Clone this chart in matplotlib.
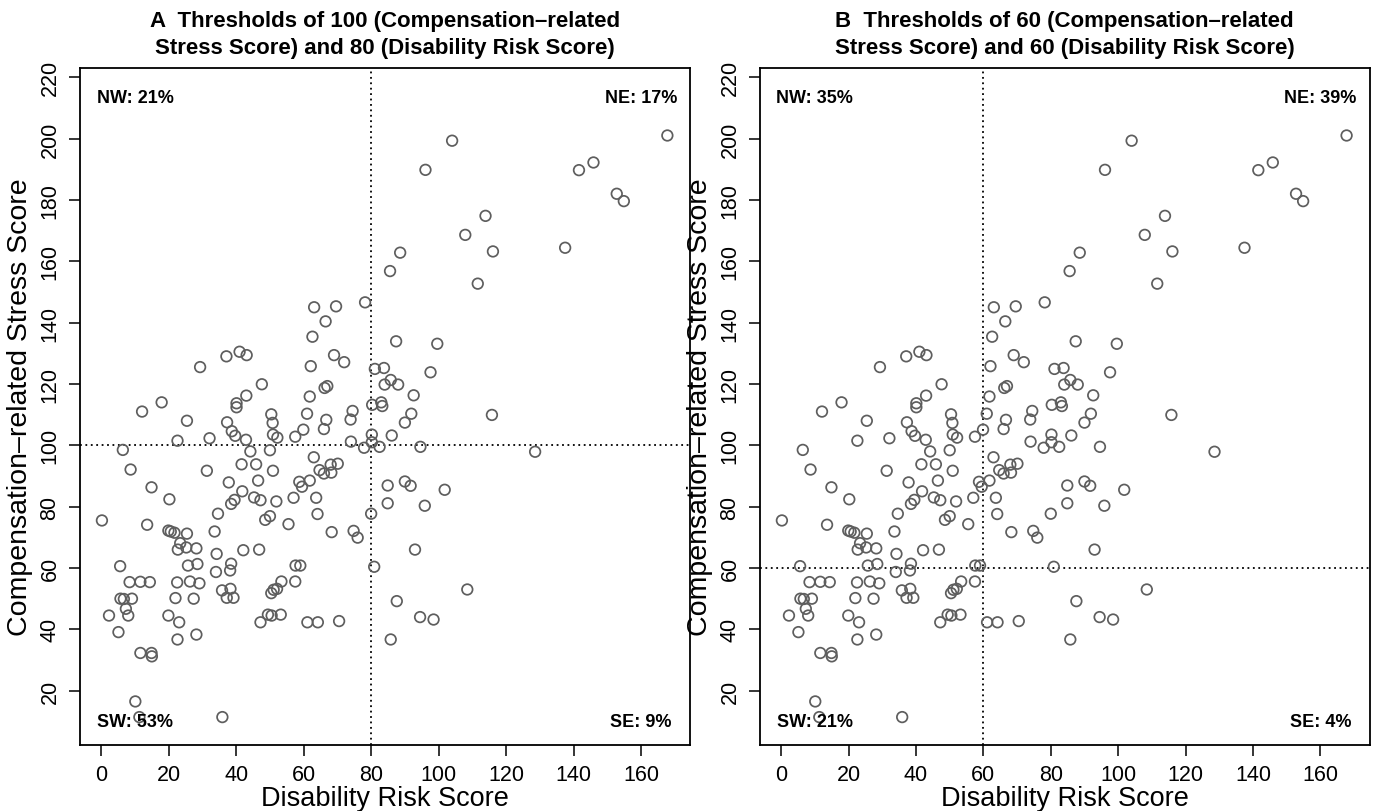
import matplotlib
matplotlib.use("Agg")
import matplotlib.pyplot as plt
import numpy as np

plt.rcParams['font.family'] = ['Liberation Sans', 'DejaVu Sans']

# ---- data (Disability Risk Score, Compensation-related Stress Score) ----
disability = [
    # NE region (panel A)
    167.8, 104.0, 96.1, 145.9, 141.6, 152.8, 154.9, 113.9, 107.9, 88.6, 116.1, 137.5,
    85.6, 111.6, 87.4, 99.6, 81.1, 83.8, 97.6, 85.8, 84.0, 88.0, 92.6, 80.3, 83.0, 83.3,
    91.9, 90.0, 115.8, 86.1, 80.2, 80.2,
    # NW region
    78.2, 63.1, 69.6, 66.5, 62.6, 69.0, 72.0, 62.1, 37.1, 41.0, 43.1, 29.3, 47.6, 66.2,
    67.0, 43.0, 61.8, 40.1, 40.1, 17.9, 12.1, 74.5, 50.4, 61.0, 73.9, 66.7, 25.4, 37.3,
    50.8, 38.7, 66.0, 59.9, 39.7, 50.9, 52.2, 57.5, 32.1, 22.6, 42.9, 74.0,
    # SE region
    82.5, 94.6, 128.6, 84.9, 90.0, 91.7, 101.8, 84.9, 95.9, 80.0, 93.0, 80.9, 108.5,
    87.6, 94.5, 98.5, 85.8,
    # SW region
    77.9, 6.4, 44.2, 50.0, 63.0, 41.6, 45.9, 70.1, 68.0, 8.7, 31.3, 50.9, 64.7, 66.0,
    68.2, 37.8, 46.5, 58.7, 59.5, 61.8, 14.9, 41.8, 20.2, 45.3, 47.2, 39.5, 38.5, 51.9,
    57.0, 63.7, 34.6, 64.1, 0.2, 13.6, 19.9, 20.6, 21.7, 25.4, 33.6, 48.6, 50.0, 55.5,
    68.3, 74.8, 76.0, 23.4, 22.7, 25.2, 28.2, 34.2, 42.1, 46.8, 5.6, 25.7, 28.5, 38.5,
    38.2, 34.0, 57.6, 59.0, 8.4, 11.6, 14.4, 22.5, 26.3, 29.1, 35.8, 38.3, 37.2, 39.2,
    53.4, 57.5, 50.4, 51.1, 52.1, 5.7, 6.7, 9.1, 22.0, 27.4, 7.3, 2.3, 8.0, 19.9, 23.1,
    47.2, 49.4, 50.5, 53.2, 61.1, 64.2, 70.5, 5.1, 22.6, 28.2, 11.6, 14.9, 15.0, 10.1,
    11.3, 35.9,
]
stress = [
    # NE region (panel A)
    201.0, 199.3, 189.8, 192.2, 189.7, 182.0, 179.6, 174.8, 168.6, 162.8, 163.2, 164.4,
    156.8, 152.7, 133.9, 133.1, 124.9, 125.2, 123.8, 121.3, 119.8, 119.8, 116.3, 113.2,
    114.0, 112.8, 110.3, 107.4, 109.9, 103.2, 103.5, 101.0,
    # NW region
    146.6, 145.0, 145.3, 140.4, 135.4, 129.4, 127.1, 125.8, 129.0, 130.5, 129.4, 125.5,
    119.9, 118.7, 119.3, 116.2, 115.9, 113.7, 112.4, 114.0, 111.0, 111.2, 110.1, 110.3,
    108.4, 108.3, 108.0, 107.5, 107.3, 104.6, 105.3, 105.1, 103.1, 103.5, 102.5, 102.8,
    102.3, 101.5, 101.8, 101.2,
    # SE region
    99.5, 99.5, 97.9, 86.9, 88.2, 86.8, 85.5, 81.1, 80.3, 77.7, 66.0, 60.4, 53.0,
    49.2, 44.0, 43.2, 36.7,
    # SW region
    99.2, 98.5, 98.0, 98.4, 96.1, 93.8, 93.8, 94.0, 93.7, 92.1, 91.7, 91.7, 91.9, 90.8,
    91.1, 87.9, 88.5, 88.1, 86.5, 88.5, 86.3, 85.0, 82.4, 83.0, 82.1, 82.2, 80.9, 81.7,
    82.9, 82.9, 77.7, 77.6, 75.5, 74.1, 72.2, 71.9, 71.5, 71.2, 71.9, 75.7, 76.9, 74.3,
    71.7, 72.1, 69.9, 68.1, 66.0, 66.7, 66.4, 64.6, 65.8, 66.0, 60.6, 60.8, 61.3, 61.4,
    59.2, 58.7, 60.8, 60.8, 55.4, 55.5, 55.4, 55.3, 55.6, 55.0, 52.7, 53.2, 50.3, 50.3,
    55.6, 55.6, 51.8, 52.9, 53.2, 50.0, 49.9, 50.0, 50.2, 50.0, 46.7, 44.5, 44.5, 44.5,
    42.3, 42.3, 44.8, 44.5, 44.8, 42.3, 42.3, 42.7, 39.1, 36.7, 38.3, 32.3, 32.3, 31.2,
    16.5, 11.4, 11.4,
]

panel_titles = [
    "A  Thresholds of 100 (Compensation\u2013related\nStress Score) and 80 (Disability Risk Score)",
    "B  Thresholds of 60 (Compensation\u2013related\nStress Score) and 60 (Disability Risk Score)",
]
x_thresholds = [80, 60]
y_thresholds = [100, 60]
quadrant_labels = [
    ["NW: 21%", "NE: 17%", "SW: 53%", "SE: 9%"],
    ["NW: 35%", "NE: 39%", "SW: 21%", "SE: 4%"],
]
x_ticks = [0, 20, 40, 60, 80, 100, 120, 140, 160]
y_ticks = [20, 40, 60, 80, 100, 120, 140, 160, 180, 200, 220]

fig = plt.figure(figsize=(13.78, 8.12), dpi=100)
W, H = 1378, 812
boxes = [(80, 690.3), (760, 1369.5)]
top_px, bot_px = 69, 746

for i, (l, r) in enumerate(boxes):
    ax = fig.add_axes([l / W, 1 - bot_px / H, (r - l) / W, (bot_px - top_px) / H])
    ax.scatter(disability, stress, s=58, facecolors='none', edgecolors='#5e5e5e',
               linewidths=1.25, zorder=3)
    ax.axvline(x_thresholds[i], color='black', lw=1.3, ls=(0, (1, 2.0)), zorder=2)
    ax.axhline(y_thresholds[i], color='black', lw=1.3, ls=(0, (1, 2.0)), zorder=2)
    ax.set_xlim(-6.3, 174.6)
    ax.set_ylim(2.3, 223.0)
    ax.set_xticks(x_ticks)
    ax.set_yticks(y_ticks)
    ax.tick_params(axis='both', direction='out', length=8, width=1.1,
                   labelsize=15.5, pad=6)
    for lab in ax.get_yticklabels():
        lab.set_rotation(90)
        lab.set_va('center')
    for sp in ax.spines.values():
        sp.set_linewidth(1.3)
    ax.set_xlabel("Disability Risk Score", fontsize=19.5, labelpad=0)
    ax.set_ylabel("Compensation\u2013related Stress Score", fontsize=20.5, labelpad=5)
    ax.set_title(panel_titles[i], fontsize=16, fontweight='bold', pad=11,
                 linespacing=1.35)
    nw, ne, sw, se = quadrant_labels[i]
    kw = dict(fontsize=13, fontweight='bold', ha='center', va='center', zorder=4)
    ax.text(10, 213.5, nw, **kw)
    ax.text(160, 213.5, ne, **kw)
    ax.text(10, 10, sw, **kw)
    ax.text(160, 10, se, **kw)

fig.savefig("out.png", dpi=100)
